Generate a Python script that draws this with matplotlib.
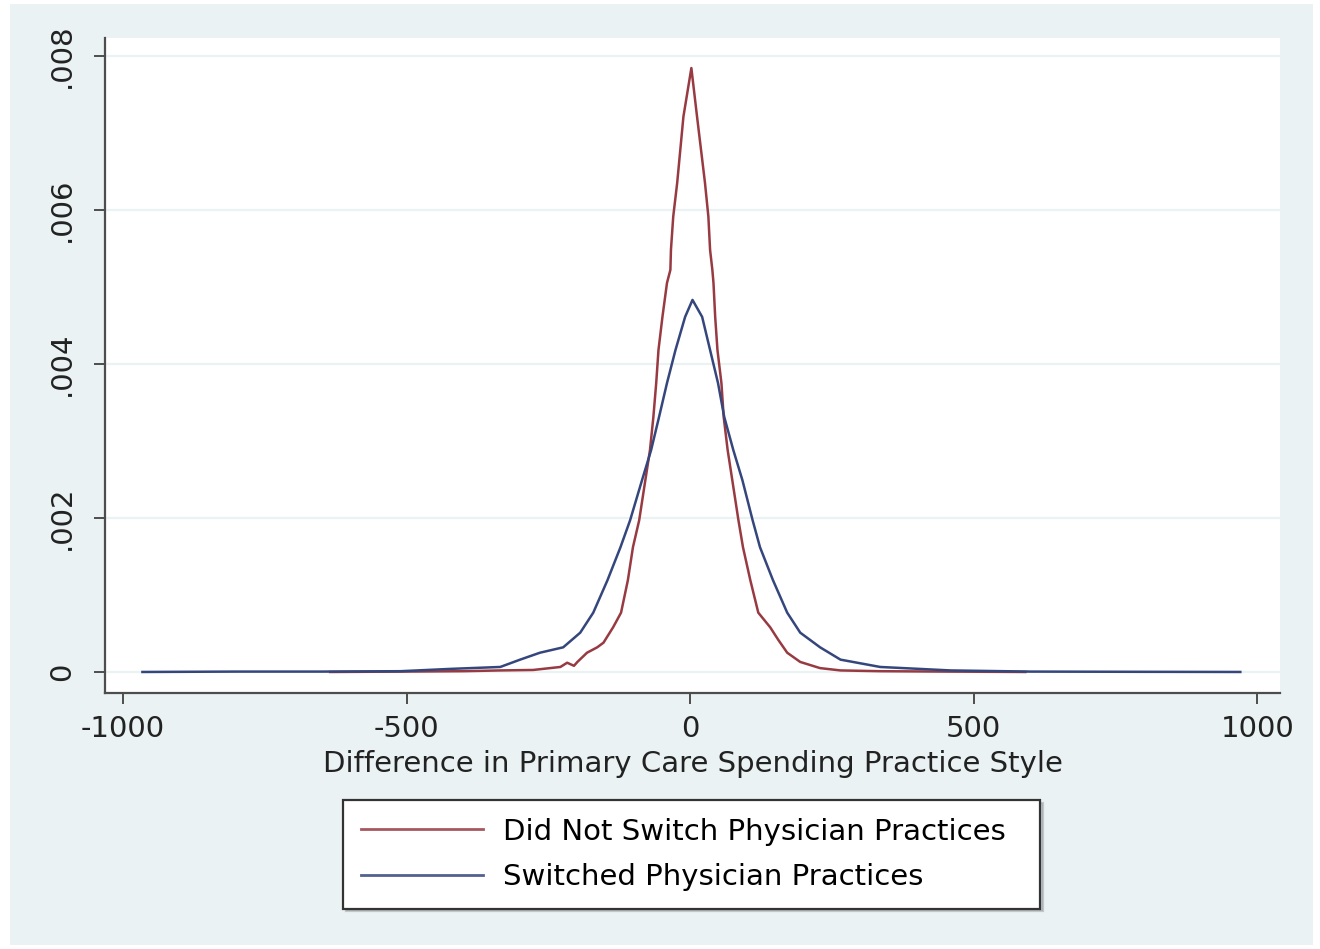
"""
Kernel density: difference in primary care spending practice style,
switchers vs non-switchers (Stata s2color look).
Saves: out.png
"""

import matplotlib
matplotlib.use('Agg')
import matplotlib.pyplot as plt
from matplotlib.patches import Rectangle

matplotlib.rcParams['font.family'] = 'DejaVu Sans'

# ── Data ──
series_labels = ['Did Not Switch Physician Practices', 'Switched Physician Practices']

x_no_switch = [-635, -500, -400, -335, -277, -229, -217, -205, -199, -182, -164,
               -153, -136, -122, -110, -101, -90, -80, -71, -65, -60, -56, -49,
               -41, -35, -34, -30, -23, -12, 2, 12, 26, 32, 35, 39, 41, 44, 48,
               55, 59, 66, 75, 85, 93, 106, 120, 141, 155, 171, 194, 229, 265,
               335, 450, 591]
d_no_switch = [0.0, 0.000005, 0.00001, 0.00002, 0.000026, 0.000065, 0.00012,
               0.00008, 0.00013, 0.00025, 0.00032, 0.00038, 0.00058, 0.00077,
               0.00119, 0.00162, 0.00197, 0.00245, 0.00288, 0.00331, 0.00375,
               0.00418, 0.00461, 0.00505, 0.00522, 0.00548, 0.00591, 0.00635,
               0.00721, 0.00784, 0.00721, 0.00635, 0.00591, 0.00548, 0.00522,
               0.00505, 0.00461, 0.00418, 0.00375, 0.00331, 0.00288, 0.00245,
               0.00197, 0.00162, 0.00119, 0.00077, 0.00058, 0.00042, 0.00025,
               0.00013, 0.00005, 0.00002, 0.00001, 0.000005, 0.0]

x_switch = [-966, -800, -650, -511, -423, -335, -300, -265, -224, -194, -171,
            -146, -123, -106, -85, -69, -55, -41, -26, -9, 4, 21, 35, 49, 60,
            76, 92, 110, 123, 146, 171, 194, 229, 265, 335, 459, 600, 800, 970]
d_switch = [0.0, 0.000005, 0.000005, 0.00001, 0.00004, 0.000065, 0.00016,
            0.00025, 0.00032, 0.00051, 0.00077, 0.00119, 0.00162, 0.00197,
            0.00249, 0.00288, 0.00331, 0.00375, 0.00418, 0.00461, 0.00483,
            0.00461, 0.00418, 0.00375, 0.00331, 0.00288, 0.00249, 0.00197,
            0.00162, 0.00119, 0.00077, 0.00051, 0.00032, 0.00016, 0.000065,
            0.00002, 0.000005, 0.000002, 0.0]

y_ticks = [0, 0.002, 0.004, 0.006, 0.008]
y_tick_labels = ['0', '.002', '.004', '.006', '.008']
x_ticks = [-1000, -500, 0, 500, 1000]
x_tick_labels = ['-1000', '-500', '0', '500', '1000']

# ── Colours (Stata s2color-like) ──
bg = '#eaf2f3'
red = '#983a42'
blue = '#34467c'
axis_col = '#4d4d4d'
txt = '#222222'

fig = plt.figure(figsize=(13.2, 9.49), dpi=100, facecolor='white')
fig.patches.append(Rectangle((10 / 1320, 4 / 949), 1303 / 1320, 941 / 949,
                             transform=fig.transFigure, facecolor=bg,
                             edgecolor='none', zorder=-10))

ax = fig.add_axes([105 / 1320, 256 / 949, 1175 / 1320, 655 / 949])
ax.set_facecolor('white')

ax.plot(x_no_switch, d_no_switch, color=red, linewidth=1.8, label=series_labels[0], zorder=3)
ax.plot(x_switch, d_switch, color=blue, linewidth=1.8, label=series_labels[1], zorder=3)

ax.set_xlim(-1032, 1040)
ax.set_ylim(-0.000273, 0.00823)

ax.set_yticks(y_ticks)
ax.set_yticklabels(y_tick_labels, rotation=90, va='center')
ax.set_xticks(x_ticks)
ax.set_xticklabels(x_tick_labels)

ax.yaxis.grid(True, color=bg, linewidth=1.6, zorder=1)
ax.xaxis.grid(False)
ax.set_axisbelow(True)

for side in ['top', 'right']:
    ax.spines[side].set_visible(False)
for side in ['left', 'bottom']:
    ax.spines[side].set_color(axis_col)
    ax.spines[side].set_linewidth(1.6)

ax.tick_params(axis='both', direction='out', length=8, width=1.4, color=axis_col,
               labelsize=21, labelcolor=txt)
ax.tick_params(axis='y', pad=13)
ax.tick_params(axis='x', pad=8)

ax.set_xlabel('Difference in Primary Care Spending Practice Style', fontsize=21,
              color=txt, labelpad=5)

# ── Legend box under the axis, fixed width like the Stata one ──
leg = ax.legend(loc='upper left', mode='expand',
                bbox_to_anchor=(343 / 1320, 1 - 800 / 949, 697 / 1320, 0),
                bbox_transform=fig.transFigure, fontsize=21, frameon=True,
                fancybox=False, handlelength=4.2, handletextpad=0.7,
                borderpad=0.6, labelspacing=0.6, borderaxespad=0,
                shadow={'ox': 2, 'oy': -2, 'color': '#9aa0a3'})
leg.get_frame().set_edgecolor('#333333')
leg.get_frame().set_linewidth(1.6)
leg.get_frame().set_facecolor('white')
for line in leg.get_lines():
    line.set_linewidth(2.0)
    line.set_alpha(0.85)

fig.savefig('out.png', dpi=100, facecolor='white')
